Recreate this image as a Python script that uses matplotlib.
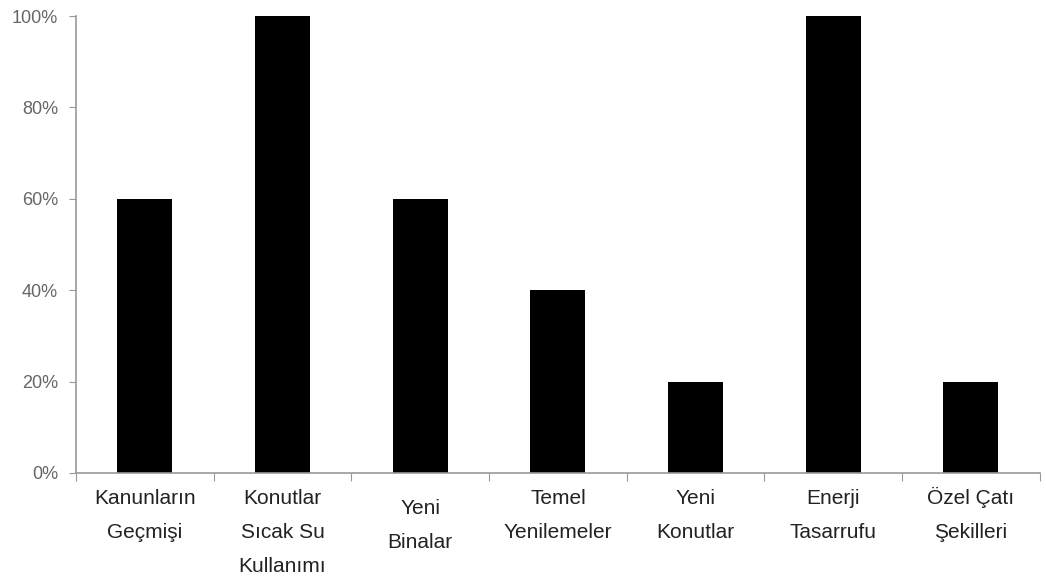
import matplotlib
matplotlib.use("Agg")
import matplotlib.pyplot as plt
import numpy as np
from matplotlib.ticker import FixedLocator, NullFormatter

categories = ["Kanunların\nGeçmişi", "Konutlar\nSıcak Su\nKullanımı", "Yeni\nBinalar",
              "Temel\nYenilemeler", "Yeni\nKonutlar", "Enerji\nTasarrufu", "Özel Çatı\nŞekilleri"]
values = [60, 100, 60, 40, 20, 100, 20]
yticks = [0, 20, 40, 60, 80, 100]

fig = plt.figure(figsize=(10.46, 5.85), dpi=100)
ax = fig.add_axes([0.0727, 0.1915, 0.9213, 0.7811])

x = np.arange(len(categories))
ax.bar(x, values, width=0.4, color="black")
ax.set_xlim(-0.5, len(categories) - 0.5)
ax.set_ylim(0, 100)

ax.xaxis.set_major_locator(FixedLocator(np.arange(-0.5, len(categories), 1.0)))
ax.xaxis.set_major_formatter(NullFormatter())
ax.tick_params(axis="x", which="major", length=6, color="#999999", direction="out")

fam = ["Liberation Sans Narrow", "Liberation Sans", "DejaVu Sans"]
first_off = 31
line_gap = 34
extra_drop = [0, 0, 10, 0, 0, 0, 0]  # the reference draws "Yeni Binalar" a little lower
for i, cat in enumerate(categories):
    for k, line in enumerate(cat.split("\n")):
        ax.annotate(line, xy=(x[i], 0), xycoords=("data", "axes fraction"),
                    xytext=(0, -(first_off + extra_drop[i] + k * line_gap)),
                    textcoords="offset pixels",
                    ha="center", va="baseline", fontsize=15, color="#222222",
                    family=fam, annotation_clip=False)

ax.set_yticks(yticks)
ax.set_yticklabels([f"{t}%" for t in yticks], family=fam, fontsize=13, color="#666666")
ax.tick_params(axis="y", length=5, color="#999999", pad=8)

for s in ["top", "right"]:
    ax.spines[s].set_visible(False)
for s in ["left", "bottom"]:
    ax.spines[s].set_color("#999999")
    ax.spines[s].set_linewidth(1.2)

fig.savefig("out.png", dpi=100)
